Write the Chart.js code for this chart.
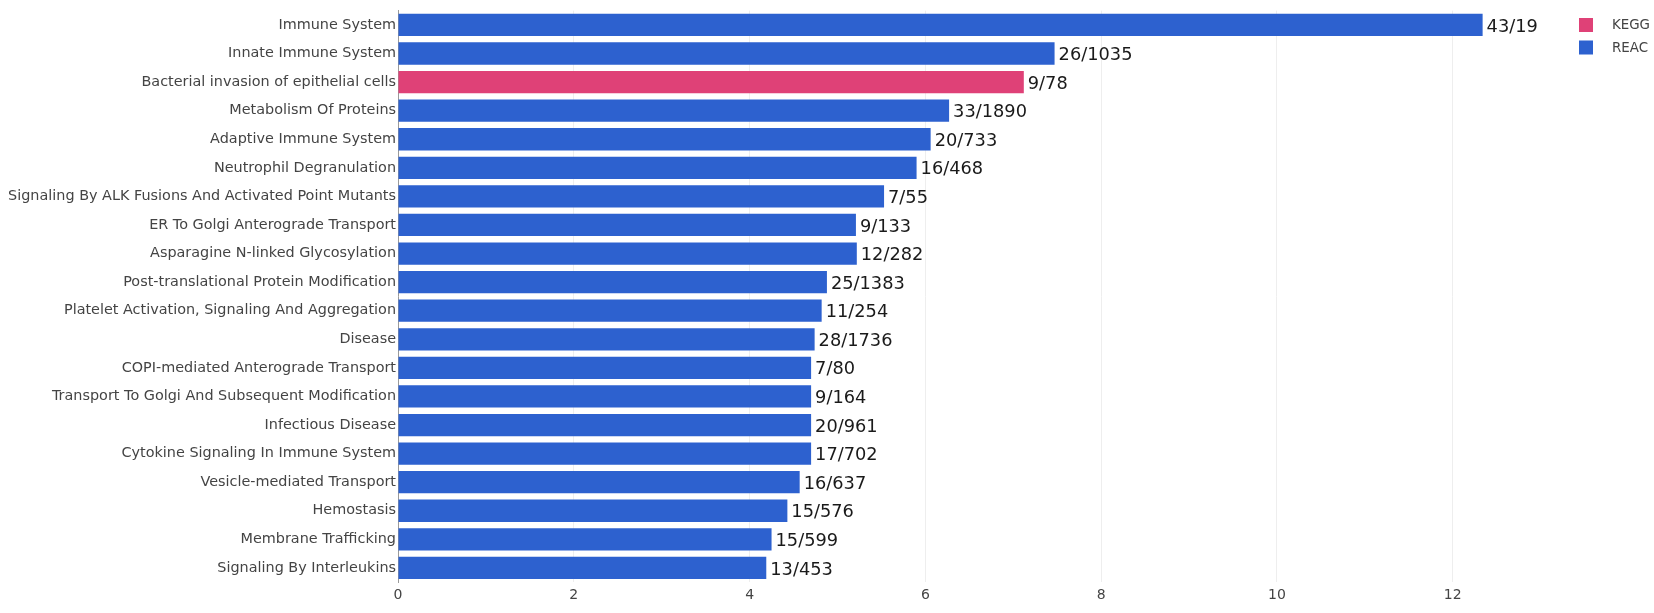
<!DOCTYPE html>
<html>
<head>
<meta charset="utf-8">
<script src="https://cdn.jsdelivr.net/npm/chart.js@4"></script>
<style>
  html, body { margin: 0; padding: 0; background: #ffffff; }
  #wrap { width: 1654px; height: 613px; position: relative; }
</style>
</head>
<body>
<div id="wrap"><canvas id="c" width="1654" height="613"></canvas></div>
<script>
const categories = [
  'Immune System',
  'Innate Immune System',
  'Bacterial invasion of epithelial cells',
  'Metabolism Of Proteins',
  'Adaptive Immune System',
  'Neutrophil Degranulation',
  'Signaling By ALK Fusions And Activated Point Mutants',
  'ER To Golgi Anterograde Transport',
  'Asparagine N-linked Glycosylation',
  'Post-translational Protein Modification',
  'Platelet Activation, Signaling And Aggregation',
  'Disease',
  'COPI-mediated Anterograde Transport',
  'Transport To Golgi And Subsequent Modification',
  'Infectious Disease',
  'Cytokine Signaling In Immune System',
  'Vesicle-mediated Transport',
  'Hemostasis',
  'Membrane Trafficking',
  'Signaling By Interleukins'
];
const sources = ['REAC','REAC','KEGG','REAC','REAC','REAC','REAC','REAC','REAC','REAC',
                 'REAC','REAC','REAC','REAC','REAC','REAC','REAC','REAC','REAC','REAC'];
const values = [12.34, 7.47, 7.12, 6.27, 6.06, 5.90, 5.53, 5.21, 5.22, 4.88,
                4.82, 4.74, 4.70, 4.70, 4.70, 4.70, 4.57, 4.43, 4.25, 4.19];
const valueLabels = ['43/19','26/1035','9/78','33/1890','20/733','16/468','7/55','9/133','12/282','25/1383',
                     '11/254','28/1736','7/80','9/164','20/961','17/702','16/637','15/576','15/599','13/453'];
const seriesNames = ['KEGG', 'REAC'];
const seriesColors = ['#df4177', '#2d61cf'];
const xMax = 13.3;
const xStep = 2;

const datasets = seriesNames.map((name, si) => ({
  label: name,
  data: values.map((v, i) => sources[i] === name ? v : null),
  backgroundColor: seriesColors[si],
  borderWidth: 0,
  grouped: false,
  categoryPercentage: 1.0,
  barPercentage: 0.78
}));

const valueLabelPlugin = {
  id: 'valueLabels',
  afterDatasetsDraw(chart) {
    const ctx = chart.ctx;
    ctx.save();
    ctx.font = '17.8px "DejaVu Sans", Verdana, sans-serif';
    ctx.fillStyle = '#1a1a1a';
    ctx.textAlign = 'left';
    ctx.textBaseline = 'middle';
    chart.data.datasets.forEach((ds, di) => {
      const meta = chart.getDatasetMeta(di);
      meta.data.forEach((bar, i) => {
        if (ds.data[i] === null) return;
        ctx.fillText(valueLabels[i], bar.x + 4, bar.y + 2);
      });
    });
    ctx.restore();
  }
};

const legendPlugin = {
  id: 'sideLegend',
  afterDraw(chart) {
    const ctx = chart.ctx;
    ctx.save();
    ctx.font = '13.4px "DejaVu Sans", Verdana, sans-serif';
    ctx.textBaseline = 'middle';
    ctx.textAlign = 'left';
    chart.data.datasets.forEach((ds, i) => {
      const cy = 25 + i * 22.5;
      ctx.fillStyle = ds.backgroundColor;
      ctx.fillRect(1579, cy - 7, 14, 14);
      ctx.fillStyle = '#444444';
      ctx.fillText(ds.label, 1612, cy + 1);
    });
    ctx.restore();
  }
};

new Chart(document.getElementById('c'), {
  type: 'bar',
  data: { labels: categories, datasets },
  options: {
    indexAxis: 'y',
    responsive: false,
    animation: false,
    devicePixelRatio: 1,
    layout: { padding: { left: 0, right: 87, top: 8, bottom: 4 } },
    plugins: {
      legend: { display: false },
      tooltip: { enabled: false }
    },
    scales: {
      x: {
        min: 0,
        max: xMax,
        grid: { color: '#eeeeee', lineWidth: 1, drawTicks: false },
        border: { display: false },
        ticks: {
          stepSize: xStep,
          includeBounds: false,
          color: '#444444',
          padding: 5,
          font: { family: '"DejaVu Sans", Verdana, sans-serif', size: 14 }
        }
      },
      y: {
        grid: { display: false, drawTicks: false },
        border: { display: true, color: '#9a9a9a', width: 1 },
        afterFit(scale) { scale.width = 398; },
        ticks: {
          color: '#444444',
          padding: 2,
          autoSkip: false,
          font: { family: '"DejaVu Sans", Verdana, sans-serif', size: 14.4 }
        }
      }
    }
  },
  plugins: [valueLabelPlugin, legendPlugin]
});
</script>
</body>
</html>
